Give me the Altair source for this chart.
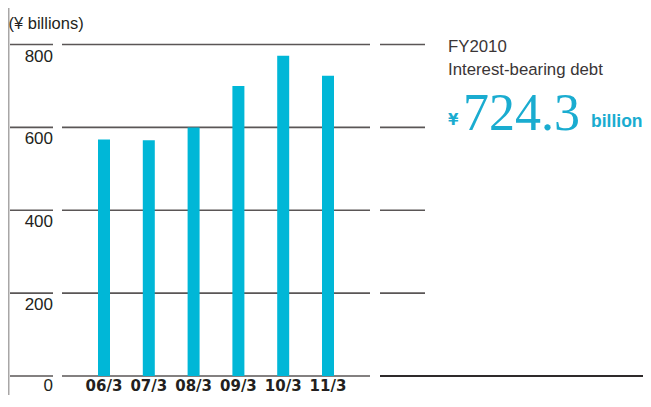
import altair as alt
import pandas as pd

# ---- data ----
years = ["06/3", "07/3", "08/3", "09/3", "10/3", "11/3"]
debt = [571, 569, 600, 700, 773, 724.3]
ticks = [0, 200, 400, 600, 800]
unit_label = "(¥ billions)"
fy_label = "FY2010"
metric_label = "Interest-bearing debt"
currency = "¥"
unit_word = "billion"

bars_df = pd.DataFrame({"year": years, "debt": debt})
ticks_df = pd.DataFrame({"v": ticks, "lab": [str(t) for t in ticks]})
latest_df = pd.DataFrame({"val": [f"{debt[-1]:.1f}"]})

CYAN = "#00B7D7"
TXT = "#231F20"
GRID = "#5A5656"
ACCENT = "#1AACD0"

W, H = 635, 387
ZERO_Y = 368

yscale = alt.Scale(domain=[0, 800], range=[ZERO_Y, 36.5], nice=False, zero=False)
xscale = alt.Scale(type="point", domain=years, range=[96, 320], padding=0)

Y = alt.Y("v:Q", scale=yscale, axis=None)

grid_left = alt.Chart(ticks_df).mark_rule(color=GRID, strokeWidth=1.6).encode(
    y=Y, x=alt.value(2), x2=alt.value(45))
grid_main = alt.Chart(ticks_df).mark_rule(color=GRID, strokeWidth=1.6).encode(
    y=Y, x=alt.value(54), x2=alt.value(362))
grid_right = alt.Chart(ticks_df).transform_filter("datum.v > 0").mark_rule(
    color=GRID, strokeWidth=1.6).encode(y=Y, x=alt.value(372), x2=alt.value(417))
grid_base = alt.Chart(ticks_df).transform_filter("datum.v == 0").mark_rule(
    color="#2E2A2B", strokeWidth=1.8).encode(y=Y, x=alt.value(372), x2=alt.value(W))

vline = alt.Chart(ticks_df).transform_filter("datum.v == 0").mark_rule(
    color="#A8A6A6", strokeWidth=1.5).encode(
    x=alt.value(0.75), y=alt.value(0), y2=alt.value(H))

ylabels = alt.Chart(ticks_df).transform_filter("datum.v > 0").mark_text(
    align="right", baseline="alphabetic", dy=17, font="Liberation Sans",
    fontSize=17, color=TXT).encode(y=Y, x=alt.value(45), text="lab:N")
ylabel0 = alt.Chart(ticks_df).transform_filter("datum.v == 0").mark_text(
    align="right", baseline="alphabetic", dy=15, font="Liberation Sans",
    fontSize=17, color=TXT).encode(y=Y, x=alt.value(45), text="lab:N")

bars = alt.Chart(bars_df).mark_bar(size=12, color=CYAN).encode(
    x=alt.X("year:N", scale=xscale, axis=None),
    y=alt.Y("debt:Q", scale=yscale, axis=None))

xlabels = alt.Chart(bars_df).mark_text(
    align="center", baseline="alphabetic", font="DejaVu Sans", fontWeight="bold",
    fontSize=15, color=TXT).encode(
    x=alt.X("year:N", scale=xscale, axis=None), y=alt.value(383), text="year:N")

def label(txt, x, y, size, font="Liberation Sans", weight="normal", color=TXT):
    return alt.Chart(latest_df).mark_text(
        align="left", baseline="alphabetic", font=font, fontSize=size,
        fontWeight=weight, color=color, text=txt).encode(
        x=alt.value(x), y=alt.value(y))

t_unit = label(unit_label, 0.5, 21, 16.5)
t_fy = label(fy_label, 440, 44, 16.8, color="#3A3536")
t_metric = label(metric_label, 440, 66.5, 16.8, color="#3A3536")
t_yen = label(currency, 440, 117, 15, font="DejaVu Sans", weight="bold", color=ACCENT)
t_big = alt.Chart(latest_df).mark_text(
    align="left", baseline="alphabetic", font="Liberation Serif", fontSize=52,
    color=ACCENT).encode(x=alt.value(455), y=alt.value(121.5), text="val:N")
t_bil = label(unit_word, 583, 118.7, 17.5, weight="bold", color=ACCENT)

chart = alt.layer(
    vline, grid_left, grid_main, grid_right, grid_base, bars, ylabels, ylabel0,
    xlabels, t_unit, t_fy, t_metric, t_yen, t_big, t_bil
).properties(
    width=W, height=H, autosize=alt.AutoSizeParams(type="none"), padding=0,
    background="white"
).configure_view(stroke="transparent", strokeWidth=0)

chart.save("out.html", embed_options={"renderer": "svg", "actions": False})
